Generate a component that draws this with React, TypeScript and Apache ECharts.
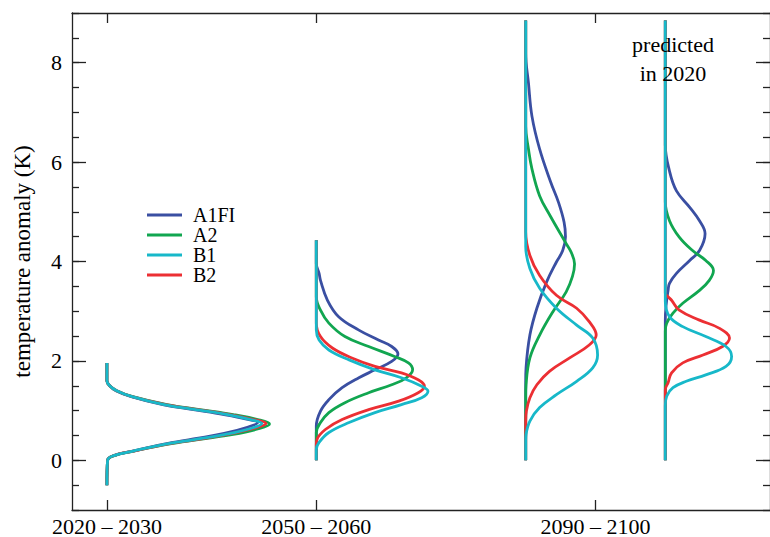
import React, { useEffect, useRef } from "react";
import * as echarts from "echarts";

// ---- categories / ticks ----
const scenarios = ["A1FI", "A2", "B1", "B2"];
const periodTickYears = [2025, 2055, 2095];
const periodTickLabels = ["2020 – 2030", "2050 – 2060", "2090 – 2100"];
const curveBaseYears = [2025, 2055, 2085, 2105]; // 2020-2030, 2050-2060, 2090-2100, predicted in 2020
const yMajorTicks = [0, 2, 4, 6, 8];

// ---- distributions: [temperature anomaly (K), horizontal density width (years on x scale)] ----
const a1fi2025 = [[1.96,0],[1.6,0],[1.5,0.4],[1.4,1.3],[1.28,3.5],[1.12,8.0],[1.02,12.4],[0.92,16.8],[0.83,20.0],[0.76,21.6],[0.66,20.0],[0.54,16.8],[0.43,12.4],[0.32,8.0],[0.18,3.5],[0.1,1.1],[0,0.1],[-0.5,0]];
const a22025 = [[1.96,0],[1.6,0],[1.5,0.4],[1.4,1.4],[1.28,3.7],[1.12,8.6],[1.02,13.3],[0.92,18.1],[0.82,21.6],[0.73,23.3],[0.63,21.6],[0.52,18.1],[0.42,13.3],[0.32,8.6],[0.18,3.7],[0.1,1.2],[0,0.1],[-0.5,0]];
const b12025 = [[1.96,0],[1.6,0],[1.5,0.4],[1.4,1.4],[1.28,3.6],[1.12,8.2],[1.02,12.7],[0.92,17.3],[0.82,20.6],[0.74,22.2],[0.64,20.6],[0.53,17.3],[0.42,12.7],[0.32,8.2],[0.18,3.6],[0.1,1.1],[0,0.1],[-0.5,0]];
const b22025 = [[1.96,0],[1.6,0],[1.5,0.4],[1.4,1.4],[1.28,3.6],[1.12,8.4],[1.02,13.0],[0.92,17.6],[0.82,21.0],[0.74,22.8],[0.64,21.0],[0.53,17.6],[0.42,13.0],[0.32,8.4],[0.18,3.6],[0.1,1.1],[0,0.1],[-0.5,0]];

const a1fi2055 = [[4.43,0],[3.96,0],[3.76,0.4],[3.62,0.6],[3.22,1.6],[2.89,3.2],[2.62,6.1],[2.42,8.9],[2.29,10.8],[2.14,11.7],[1.99,10.8],[1.82,8.4],[1.66,6.1],[1.46,3.7],[1.22,1.8],[0.99,0.6],[0.69,0],[0,0]];
const a22055 = [[4.43,0],[3.29,0],[3.02,0.6],[2.76,1.8],[2.49,4.1],[2.29,7.5],[2.09,11.2],[1.96,13.2],[1.82,13.8],[1.66,12.9],[1.52,10.8],[1.36,7.5],[1.16,4.1],[0.96,1.8],[0.76,0.6],[0.56,0],[0,0]];
const b12055 = [[4.43,0],[2.62,0],[2.42,0.4],[2.22,1.8],[2.02,4.7],[1.82,8.4],[1.66,12.2],[1.49,15.1],[1.39,16.0],[1.26,15.1],[1.12,12.2],[0.96,8.4],[0.76,4.7],[0.56,1.8],[0.36,0.4],[0.22,0],[0,0]];
const b22055 = [[4.43,0],[2.76,0],[2.49,0.6],[2.26,2.3],[2.06,5.1],[1.89,8.4],[1.76,12.2],[1.62,14.6],[1.49,15.5],[1.36,14.6],[1.19,11.8],[1.02,7.5],[0.82,3.7],[0.62,1.3],[0.42,0.1],[0.3,0],[0,0]];

const a1fi2095 = [[8.85,0],[8.19,0],[7.59,0.4],[6.92,0.9],[6.26,2.0],[5.59,3.6],[5.19,4.7],[4.79,5.5],[4.5,5.7],[4.22,5.3],[3.99,4.4],[3.59,3.0],[3.06,1.6],[2.52,0.6],[1.86,0.05],[1.6,0],[0,0]];
const a22095 = [[8.85,0],[6.72,0],[6.26,0.4],[5.86,0.9],[5.32,2.0],[4.92,3.5],[4.36,5.8],[4.19,6.5],[3.95,7.0],[3.7,6.7],[3.39,5.8],[2.99,3.9],[2.52,2.0],[2.06,0.6],[1.52,0.05],[1.3,0],[0,0]];
const b12095 = [[8.85,0],[4.3,0],[3.86,0.6],[3.46,2.0],[3.06,4.4],[2.72,7.3],[2.46,9.6],[2.12,10.3],[1.86,9.6],[1.59,7.3],[1.32,4.4],[1.06,2.0],[0.79,0.6],[0.52,0.05],[0.4,0],[0,0]];
const b22095 = [[8.85,0],[4.6,0],[4.12,0.6],[3.72,2.0],[3.32,4.4],[3.06,7.3],[2.79,9.1],[2.52,10.1],[2.32,9.1],[2.06,6.3],[1.79,3.4],[1.52,1.6],[1.26,0.6],[0.99,0.1],[0.8,0],[0,0]];

const a1fiPred = [[8.85,0],[6.35,0],[5.82,0.6],[5.42,1.6],[5.09,3.5],[4.82,4.9],[4.56,5.7],[4.22,4.9],[4.02,3.5],[3.76,1.6],[3.56,0.6],[3.42,0.4],[3.1,0.1],[2.8,0],[0,0]];
const a2Pred = [[8.85,0],[5.2,0],[4.82,0.6],[4.49,2.0],[4.22,3.9],[4.02,5.8],[3.82,6.9],[3.62,6.3],[3.42,4.9],[3.16,2.5],[2.96,1.1],[2.76,0.2],[2.6,0],[0,0]];
const b1Pred = [[8.85,0],[3.2,0],[2.89,0.6],[2.69,2.5],[2.49,5.8],[2.29,8.7],[2.09,9.5],[1.89,8.7],[1.72,5.8],[1.59,3.0],[1.46,1.1],[1.29,0.2],[1.1,0],[0,0]];
const b2Pred = [[8.85,0],[3.36,0],[3.29,0.4],[3.22,0.9],[3.02,2.0],[2.82,4.9],[2.66,7.7],[2.46,9.2],[2.29,8.2],[2.12,5.4],[1.96,2.5],[1.76,0.9],[1.56,0.4],[1.42,0],[0,0]];

const colors: Record<string, string> = {
  A1FI: "#3a4fa2",
  A2: "#11a650",
  B1: "#17b8c9",
  B2: "#ec2f33",
};

// drawing order: cyan (B1) on top
const curveSets: { name: string; curves: number[][][] }[] = [
  { name: "A1FI", curves: [a1fi2025, a1fi2055, a1fi2095, a1fiPred] },
  { name: "A2", curves: [a22025, a22055, a22095, a2Pred] },
  { name: "B2", curves: [b22025, b22055, b22095, b2Pred] },
  { name: "B1", curves: [b12025, b12055, b12095, b1Pred] },
];

const FONT = "'Liberation Serif', 'Times New Roman', serif";
const AXIS_COLOR = "#222";

export default function App() {
  const ref = useRef<HTMLDivElement>(null);

  useEffect(() => {
    if (!ref.current) return;
    const chart = echarts.init(ref.current, undefined, { renderer: "svg" });

    const series: any[] = [];
    curveSets.forEach((set) => {
      set.curves.forEach((curve, pi) => {
        series.push({
          type: "line",
          name: set.name,
          xAxisIndex: 0,
          yAxisIndex: 0,
          showSymbol: false,
          symbol: "none",
          smooth: 0.4,
          color: colors[set.name],
          lineStyle: { width: 2.8, color: colors[set.name] },
          data: curve.map(([t, w]) => [curveBaseYears[pi] + w, t]),
        });
      });
    });

    const lineStyle = { color: AXIS_COLOR, width: 1.3 };
    const labelOf = (v: number) => {
      const i = periodTickYears.indexOf(v);
      return i >= 0 ? periodTickLabels[i] : "";
    };

    const option: any = {
      animation: false,
      grid: { left: 72, top: 13, width: 703, height: 497, containLabel: false },
      legend: {
        data: scenarios,
        orient: "vertical",
        left: 142,
        top: 200,
        itemWidth: 35,
        itemHeight: 3,
        itemGap: 0,
        icon: "rect",
        selectedMode: false,
        textStyle: {
          fontFamily: FONT,
          fontSize: 20,
          lineHeight: 20,
          color: "#000",
          padding: [0, 0, 0, 6],
        },
      },
      xAxis: [
        {
          type: "value",
          min: 2020,
          max: 2120,
          position: "bottom",
          axisLine: { show: true, onZero: false, lineStyle },
          axisTick: { show: true, inside: true, length: 10, customValues: periodTickYears, lineStyle },
          axisLabel: {
            show: true,
            customValues: periodTickYears,
            formatter: (v: number) => labelOf(v),
            fontFamily: FONT,
            fontSize: 22,
            color: "#000",
            margin: 5,
          },
          splitLine: { show: false },
        },
        {
          type: "value",
          min: 2020,
          max: 2120,
          position: "top",
          axisLine: { show: true, onZero: false, lineStyle },
          axisTick: { show: true, inside: true, length: 10, customValues: periodTickYears, lineStyle },
          axisLabel: { show: false },
          splitLine: { show: false },
        },
      ],
      yAxis: [
        {
          type: "value",
          min: -1,
          max: 9,
          interval: 0.5,
          position: "left",
          name: "temperature anomaly (K)",
          nameLocation: "middle",
          nameGap: 38,
          nameTextStyle: { fontFamily: FONT, fontSize: 23, color: "#000" },
          axisLine: { show: true, onZero: false, lineStyle },
          axisTick: { show: true, inside: true, length: 7, lineStyle },
          axisLabel: {
            show: true,
            customValues: yMajorTicks,
            fontFamily: FONT,
            fontSize: 22,
            color: "#000",
            margin: 10,
          },
          splitLine: { show: false },
        },
        {
          type: "value",
          min: -1,
          max: 9,
          position: "left",
          axisLine: { show: false, onZero: false },
          axisTick: { show: true, inside: true, length: 14, customValues: yMajorTicks, lineStyle },
          axisLabel: { show: false },
          splitLine: { show: false },
        },
        {
          type: "value",
          min: -1,
          max: 9,
          interval: 0.5,
          position: "right",
          axisLine: { show: true, onZero: false, lineStyle },
          axisTick: { show: true, inside: true, length: 7, lineStyle },
          axisLabel: { show: false },
          splitLine: { show: false },
        },
        {
          type: "value",
          min: -1,
          max: 9,
          position: "right",
          axisLine: { show: false, onZero: false },
          axisTick: { show: true, inside: true, length: 14, customValues: yMajorTicks, lineStyle },
          axisLabel: { show: false },
          splitLine: { show: false },
        },
      ],
      graphic: [
        {
          type: "text",
          x: 673,
          y: 30,
          z: 100,
          style: {
            text: "predicted\nin 2020",
            fill: "#000",
            font: `22px ${FONT}`,
            align: "center",
            verticalAlign: "top",
            lineHeight: 29,
          },
        },
      ],
      series,
    };

    chart.setOption(option);
    return () => chart.dispose();
  }, []);

  return (
    <div
      ref={ref}
      style={{ position: "fixed", left: 0, top: 0, width: 770, height: 537, background: "#fff" }}
    />
  );
}
